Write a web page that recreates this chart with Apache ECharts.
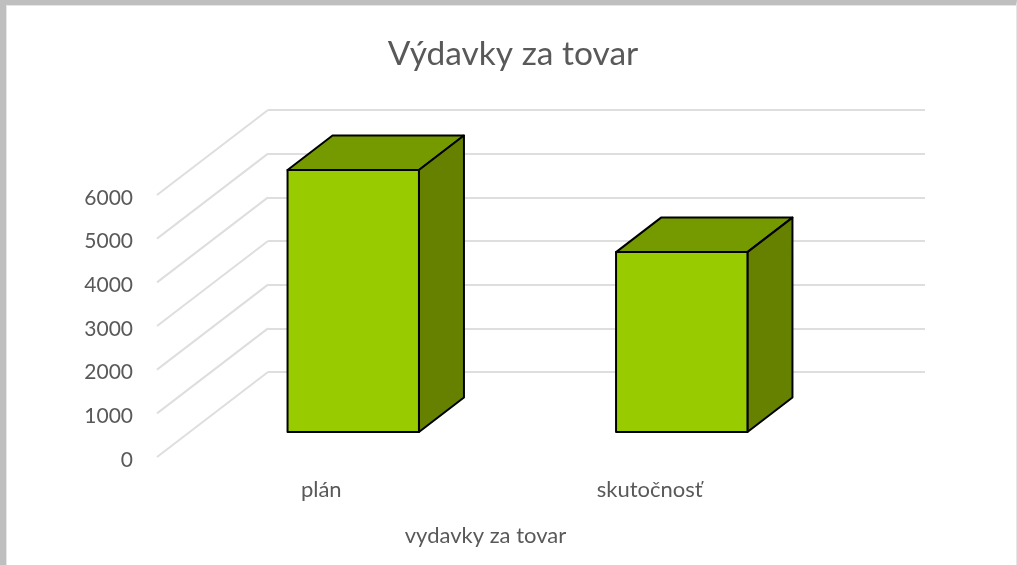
<!DOCTYPE html>
<html>
<head>
<meta charset="utf-8">
<style>
  html, body { margin: 0; padding: 0; background: #fff; }
  #frame { position: absolute; left: 0; top: 0; width: 1017px; height: 565px; box-sizing: border-box;
           border-style: solid; border-color: #bfbfbf #e6e6e6 #fff #bfbfbf; border-width: 5px 1px 0 6px;
           box-shadow: inset 1px 1px 0 #e6e6e6; }
  #main { position: absolute; left: 0; top: 0; width: 1017px; height: 565px; }
</style>
</head>
<body>
<div id="frame"></div>
<div id="main"></div>
<script src="https://cdn.jsdelivr.net/npm/echarts@6/dist/echarts.min.js"></script>
<script>
// data
var categories = ['plán', 'skutočnosť'];
var values = [6000, 4120];
var yTicks = [0, 1000, 2000, 3000, 4000, 5000, 6000];

// colours
var textColor = '#595959';
var gridColor = '#dedede';
var frontColor = '#99cc00';
var topColor = '#749a00';
var sideColor = '#668000';

// depth of the fake 3d: floor from front edge to back wall, and bar depth
var floorDx = 111, floorDy = -85;
var barDx = 45, barDy = -34.5;

var chart = echarts.init(document.getElementById('main'));

// slanted lines on the left side wall
function renderSideLine(params, api) {
    var p = api.coord([0, api.value(0)]);
    var x = params.coordSys.x;
    return {
        type: 'line',
        shape: { x1: x, y1: p[1], x2: x + floorDx, y2: p[1] + floorDy },
        style: { stroke: gridColor, lineWidth: 2 }
    };
}

// front, top and side face of one column
function renderBox(params, api) {
    var top = api.coord([api.value(0), api.value(1)]);
    var base = api.coord([api.value(0), 0]);
    var w = api.size([1, 0])[0] * 0.4;
    var l = top[0] - w / 2, r = top[0] + w / 2;
    var border = { stroke: '#000', lineWidth: 2, lineJoin: 'round' };
    return {
        type: 'group',
        children: [
            {
                type: 'polygon',
                shape: { points: [[l, top[1]], [l + barDx, top[1] + barDy], [r + barDx, top[1] + barDy], [r, top[1]]] },
                style: Object.assign({ fill: topColor }, border)
            },
            {
                type: 'polygon',
                shape: { points: [[r, top[1]], [r + barDx, top[1] + barDy], [r + barDx, base[1] + barDy], [r, base[1]]] },
                style: Object.assign({ fill: sideColor }, border)
            },
            {
                type: 'rect',
                shape: { x: l, y: top[1], width: w, height: base[1] - top[1] },
                style: Object.assign({ fill: frontColor }, border)
            }
        ]
    };
}

var plainAxis = { axisLine: { show: false }, axisTick: { show: false }, axisLabel: { show: false }, splitLine: { show: false } };

var option = {
    animation: false,
    textStyle: { fontFamily: 'Lato' },
    title: {
        text: 'Výdavky za tovar',
        left: 508,
        top: 32,
        textAlign: 'center',
        textStyle: { color: textColor, fontSize: 33.5, fontWeight: 'normal', fontFamily: 'Lato' }
    },
    grid: [
        // back wall
        { left: 268, top: 110, width: 657, height: 262 },
        // front edge, carries the labels
        { left: 157, top: 195, width: 657, height: 262 },
        // plane of the columns
        { left: 189, top: 170, width: 657, height: 262 }
    ],
    xAxis: [
        Object.assign({ type: 'category', gridIndex: 0, data: categories }, plainAxis),
        {
            type: 'category',
            gridIndex: 1,
            data: categories,
            axisLine: { show: false },
            axisTick: { show: false },
            axisLabel: { color: textColor, fontSize: 22, margin: 22 },
            name: 'vydavky za tovar',
            nameLocation: 'middle',
            nameGap: 68,
            nameTextStyle: { color: textColor, fontSize: 22 }
        },
        Object.assign({ type: 'category', gridIndex: 2, data: categories }, plainAxis)
    ],
    yAxis: [
        {
            type: 'value',
            gridIndex: 0,
            min: 0,
            max: 6000,
            interval: 1000,
            axisLine: { show: false },
            axisTick: { show: false },
            axisLabel: { show: false },
            splitLine: { lineStyle: { color: gridColor, width: 2 } }
        },
        {
            type: 'value',
            gridIndex: 1,
            min: 0,
            max: 6000,
            interval: 1000,
            axisLine: { show: false },
            axisTick: { show: false },
            axisLabel: {
                margin: 24,
                formatter: function (v) { return '{n|' + v + '}'; },
                // labels sit a little below their lines in the original
                rich: { n: { color: textColor, fontSize: 21, padding: [6, 0, 0, 0] } }
            },
            splitLine: { show: false }
        },
        Object.assign({ type: 'value', gridIndex: 2, min: 0, max: 6000, interval: 1000 }, plainAxis)
    ],
    series: [
        {
            type: 'custom',
            xAxisIndex: 1,
            yAxisIndex: 1,
            silent: true,
            renderItem: renderSideLine,
            encode: { y: 0 },
            data: yTicks
        },
        {
            type: 'custom',
            xAxisIndex: 2,
            yAxisIndex: 2,
            renderItem: renderBox,
            encode: { x: 0, y: 1 },
            data: values.map(function (v, i) { return [i, v]; })
        }
    ]
};

chart.setOption(option);
</script>
</body>
</html>
